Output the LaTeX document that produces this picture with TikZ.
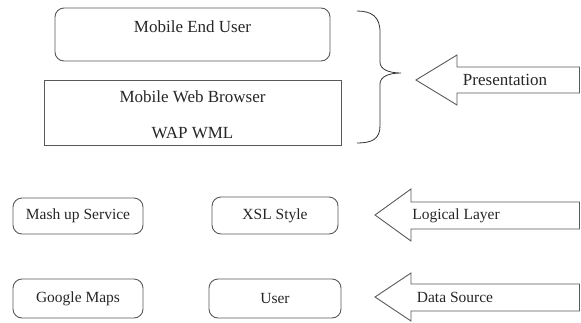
\documentclass[tikz,border=0pt]{standalone}
\usepackage{fontspec}
\setmainfont{Liberation Serif}

\begin{document}
\begin{tikzpicture}[
  x = 1pt, y = -1pt,
  every node/.style = {font=\fontsize{15.5}{18}\selectfont, text=black!85},
  big/.style      = {font=\fontsize{17}{20}\selectfont},
  box/.style      = {draw=black!65, line width=0.9pt, rounded corners=9pt, inner sep=0pt},
  plainbox/.style = {box, rounded corners=0pt},
  layer/.style    = {draw=black!65, line width=0.9pt, line join=miter},
  brace/.style    = {draw=black!80, line width=0.8pt}
]
\useasboundingbox (0,0) rectangle (581,322);

% presentation tier
\node[box, minimum width=275pt, minimum height=53pt] (enduser) at (192.5,34.5) {};
\node[big] (enduserlbl) at (192.5,27) {Mobile End User};

\node[plainbox, minimum width=297pt, minimum height=65pt] (browser) at (192.5,112.5) {};
\node[big] (browserlbl) at (192.5,97)  {Mobile Web Browser};
\node[big] (wmllbl)     at (192.5,133) {WAP WML};

\draw[brace] (357,11) .. controls (372,11) and (380,17) .. (380,32)
  -- (380,62) .. controls (380,69) and (388,73) .. (401,73)
  .. controls (388,73) and (380,77) .. (380,84)
  -- (380,126) .. controls (380,139) and (372,143) .. (357,143);

\draw[layer] (416,80) -- (457,55) -- (457,67) -- (579.5,67)
  -- (579.5,93) -- (457,93) -- (457,105) -- cycle;
\node[big] (presentation) at (505,80) {Presentation};

% logical tier
\node[box, minimum width=130pt, minimum height=36pt] (mashup) at (78,216)  {Mash up Service};
\node[box, minimum width=126pt, minimum height=37pt] (xsl)    at (275,215.5) {XSL Style};

\draw[layer] (375,215) -- (411,189) -- (411,202) -- (579.5,202)
  -- (579.5,229) -- (411,229) -- (411,241) -- cycle;
\node (logical) at (456,216) {Logical Layer};

% data tier
\node[box, minimum width=130pt, minimum height=39pt] (google) at (78,298.5)  {Google Maps};
\node[box, minimum width=132pt, minimum height=39pt] (user)   at (275,298.5) {User};

\draw[layer] (375,297) -- (411,273) -- (411,284) -- (579.5,284)
  -- (579.5,311) -- (411,311) -- (411,321) -- cycle;
\node (datasource) at (455,297.5) {Data Source};

\end{tikzpicture}
\end{document}
